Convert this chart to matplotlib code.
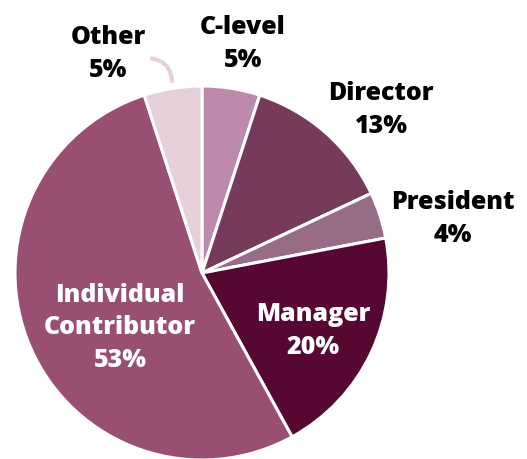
import matplotlib
matplotlib.use("Agg")
import matplotlib.pyplot as plt
from matplotlib.patches import FancyArrowPatch

labels = ["C-level", "Director", "President", "Manager", "Individual\nContributor", "Other"]
shares = [5, 13, 4, 20, 53, 5]
colors = ["#be8aab", "#763a5b", "#976c87", "#560833", "#984f72", "#e6d0da"]
text_colors = ["black", "black", "black", "white", "white", "black"]
# label anchor (pixel coords, top-left origin)
label_pos = [(243, 44), (381, 110), (453, 219), (313, 331), (120, 328), (108, 54)]

W, H = 527, 459
fig = plt.figure(figsize=(W / 100, H / 100), dpi=100)
ax = fig.add_axes([0, 0, 1, 1])

ax.pie(shares, colors=colors, startangle=90, counterclock=False,
       center=(202, H - 273), radius=187,
       wedgeprops=dict(edgecolor="white", linewidth=2.2))

ax.set_xlim(0, W)
ax.set_ylim(0, H)
ax.set_aspect("equal")
ax.axis("off")

for lab, val, (x, y), tc in zip(labels, shares, label_pos, text_colors):
    ax.text(x, H - y, f"{lab}\n{val}%", ha="center", va="center",
            fontsize=18, fontweight=800, color=tc,
            family=["Open Sans", "DejaVu Sans"], linespacing=1.38)

# leader for the "Other" label
arc = FancyArrowPatch((149, H - 58), (172, H - 84),
                      connectionstyle="arc3,rad=-0.45", arrowstyle="-",
                      color="#e6d0da", lw=3, capstyle="round")
ax.add_patch(arc)

fig.savefig("out.png", dpi=100)
